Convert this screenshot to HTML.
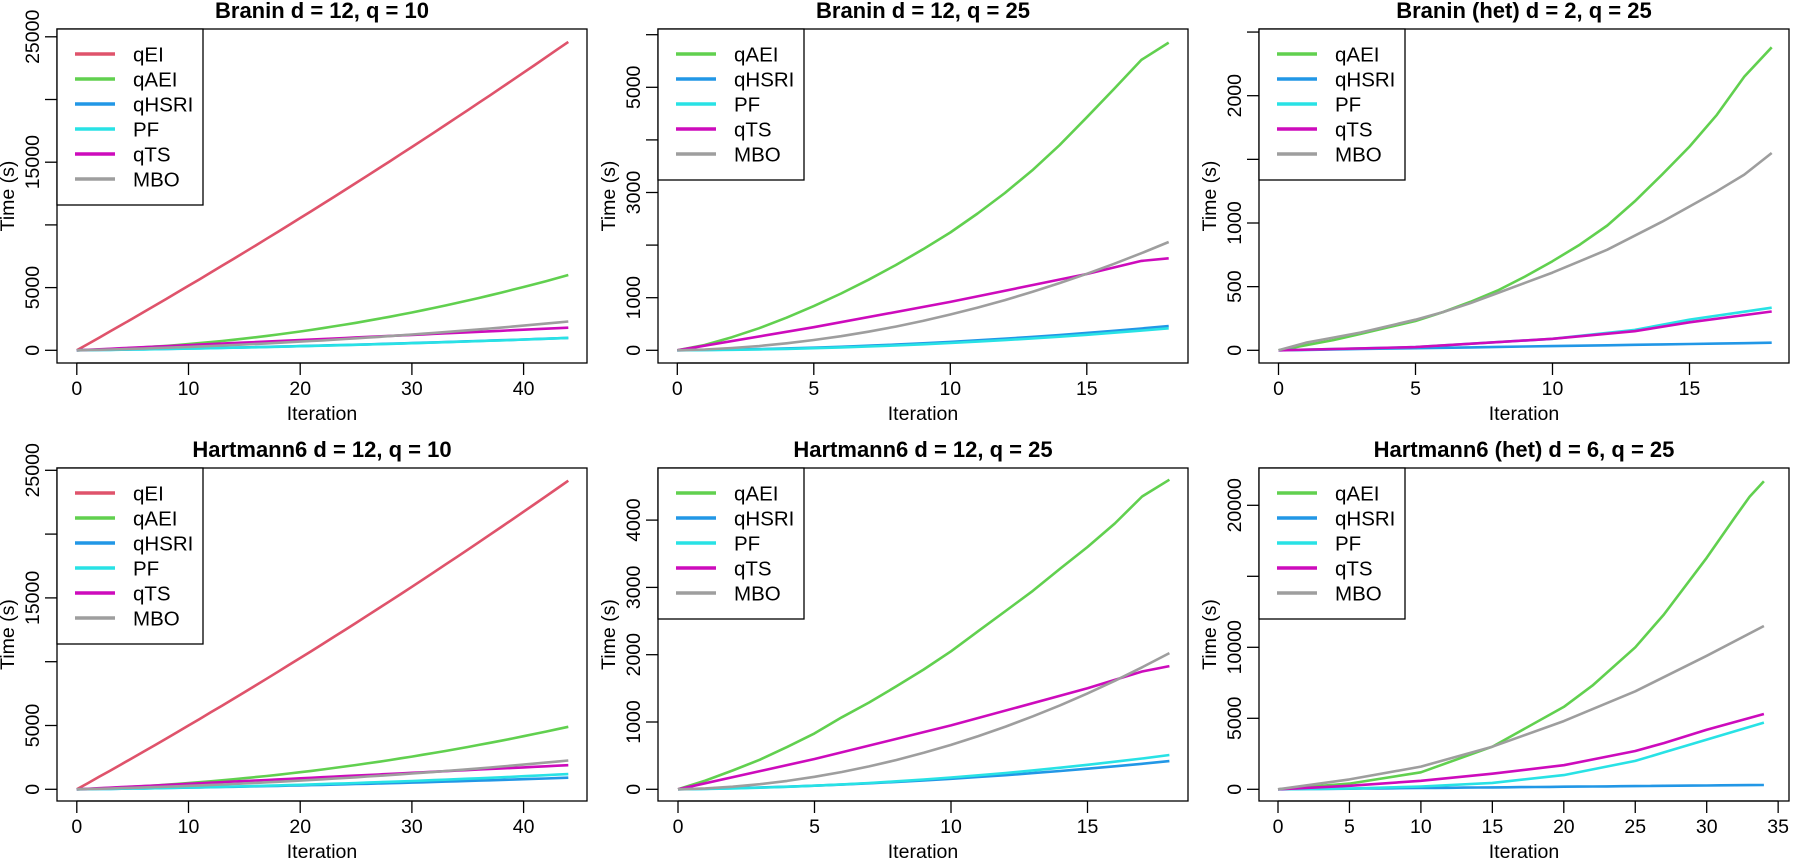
<!DOCTYPE html>
<html><head><meta charset="utf-8"><style>
html,body{margin:0;padding:0;background:#fff;}
svg{display:block;}
text{font-family:"Liberation Sans",Arial,sans-serif;fill:#000;}
</style></head><body>
<svg id="s" width="1800" height="859" viewBox="0 0 1800 859" xmlns="http://www.w3.org/2000/svg"></svg>
<script>
var C={qEI:"#DF536B",qAEI:"#61D04F",qHSRI:"#2297E6",PF:"#28E2E5",qTS:"#CD0BBC",MBO:"#9E9E9E"};
function fn(n,f){var a=[];for(var i=0;i<=n;i++)a.push([i,f(i)]);return a;}
function pts(xs,ys){return xs.map(function(x,i){return [x,ys[i]];});}
var R19=[];for(var i=0;i<=18;i++)R19.push(i);
var P=[
{L:57,T:29,H:334,title:"Branin d = 12, q = 10",ppu:11.17,x0:19.8,py:12.54,
 xt:[0,10,20,30,40],yt:[0,5000,10000,15000,20000,25000],yl:[0,5000,15000,25000],
 s:[["qEI",fn(44,function(x){return 501*x+1.316*x*x;})],
    ["qAEI",fn(44,function(x){return 23.9*x+2.557*x*x;})],
    ["qHSRI",fn(44,function(x){return 12*x+0.24*x*x;})],
    ["PF",fn(44,function(x){return 11*x+0.26*x*x;})],
    ["qTS",fn(44,function(x){return 41*x;})],
    ["MBO",fn(44,function(x){return 20*x+0.73*x*x;})]]},
{L:658,T:29,H:334,title:"Branin d = 12, q = 25",ppu:27.3,x0:19.3,py:52.6,
 xt:[0,5,10,15],yt:[0,1000,2000,3000,4000,5000,6000],yl:[0,1000,3000,5000],
 s:[["qAEI",pts(R19,[0,100,250,420,620,840,1080,1340,1620,1920,2240,2600,2990,3420,3900,4430,4970,5520,5850])],
    ["qHSRI",fn(18,function(x){return 4*x+1.2*x*x;})],
    ["PF",fn(18,function(x){return 2*x+1.18*x*x;})],
    ["qTS",pts([0,5,10,15,17,18],[0,440,920,1450,1700,1750])],
    ["MBO",fn(18,function(x){return 10*x+5.8*x*x;})]]},
{L:1259,T:29,H:334,title:"Branin (het) d = 2, q = 25",ppu:27.4,x0:19.5,py:127.3,
 xt:[0,5,10,15],yt:[0,500,1000,1500,2000,2500],yl:[0,500,1000,2000],
 s:[["qAEI",pts(R19,[0,40,80,130,180,230,300,380,470,580,700,830,980,1170,1380,1600,1850,2150,2380])],
    ["qHSRI",fn(18,function(x){return 3.3*x;})],
    ["PF",pts([0,5,10,13,15,18],[0,25,90,160,240,335])],
    ["qTS",pts([0,5,10,13,15,18],[0,25,90,150,220,305])],
    ["MBO",pts(R19,[0,60,100,140,190,240,300,370,450,530,610,700,790,900,1010,1130,1250,1380,1550])]]},
{L:57,T:468,H:333,title:"Hartmann6 d = 12, q = 10",ppu:11.17,x0:19.8,py:12.76,
 xt:[0,10,20,30,40],yt:[0,5000,10000,15000,20000,25000],yl:[0,5000,15000,25000],
 s:[["qEI",fn(44,function(x){return 485*x+1.47*x*x;})],
    ["qAEI",fn(44,function(x){return 30*x+1.85*x*x;})],
    ["qHSRI",fn(44,function(x){return 11*x+0.22*x*x;})],
    ["PF",fn(44,function(x){return 10*x+0.39*x*x;})],
    ["qTS",fn(44,function(x){return 43*x;})],
    ["MBO",fn(44,function(x){return 20*x+0.71*x*x;})]]},
{L:658,T:468,H:333,title:"Hartmann6 d = 12, q = 25",ppu:27.3,x0:20,py:67.3,
 xt:[0,5,10,15],yt:[0,1000,2000,3000,4000],yl:[0,1000,2000,3000,4000],
 s:[["qAEI",pts(R19,[0,130,280,440,630,830,1070,1290,1530,1780,2050,2350,2650,2950,3280,3600,3950,4350,4600])],
    ["qHSRI",fn(18,function(x){return 6*x+0.96*x*x;})],
    ["PF",fn(18,function(x){return 4*x+1.35*x*x;})],
    ["qTS",pts([0,5,10,15,17,18],[0,450,950,1500,1750,1830])],
    ["MBO",fn(18,function(x){return 8*x+5.8*x*x;})]]},
{L:1259,T:468,H:333,title:"Hartmann6 (het) d = 6, q = 25",ppu:14.29,x0:19,py:14.2,
 xt:[0,5,10,15,20,25,30,35],yt:[0,5000,10000,15000,20000],yl:[0,5000,10000,20000],
 s:[["qAEI",pts([0,5,10,15,20,22,25,27,30,32,33,34],[0,400,1200,3000,5800,7300,10000,12300,16300,19200,20600,21700])],
    ["qHSRI",fn(34,function(x){return 9*x;})],
    ["PF",pts([0,5,10,15,20,25,27,30,34],[0,50,200,450,1000,2000,2600,3500,4700])],
    ["qTS",pts([0,5,10,15,20,25,27,30,34],[0,250,600,1100,1700,2700,3250,4200,5300])],
    ["MBO",pts([0,5,10,15,20,25,30,34],[0,700,1600,3000,4800,6900,9400,11500])]]}
];
var o="";
P.forEach(function(p){
  var L=p.L,T=p.T,H=p.H,W=530,zero=T+321.3;
  function X(x){return L+p.x0+x*p.ppu;}
  function Y(v){return zero-v/1000*p.py;}
  o+='<text x="'+(L+W/2)+'" y="'+(T-11)+'" text-anchor="middle" font-size="22" font-weight="bold">'+p.title+'</text>';
  o+='<rect x="'+L+'" y="'+T+'" width="'+W+'" height="'+H+'" fill="none" stroke="#000" stroke-width="1.3"/>';
  var xa=X(p.xt[0]),xb=X(p.xt[p.xt.length-1]),by=T+H;
  o+='<line x1="'+xa+'" y1="'+by+'" x2="'+xb+'" y2="'+by+'" stroke="#000" stroke-width="1.3"/>';
  p.xt.forEach(function(t){var x=X(t);o+='<line x1="'+x+'" y1="'+by+'" x2="'+x+'" y2="'+(by+12)+'" stroke="#000" stroke-width="1.3"/><text x="'+x+'" y="'+(by+32)+'" text-anchor="middle" font-size="19.5">'+t+'</text>';});
  o+='<text x="'+(L+W/2)+'" y="'+(by+57)+'" text-anchor="middle" font-size="19.5">Iteration</text>';
  p.yt.forEach(function(t){var y=Y(t);o+='<line x1="'+(L-12)+'" y1="'+y+'" x2="'+L+'" y2="'+y+'" stroke="#000" stroke-width="1.3"/>';});
  p.yl.forEach(function(t){var y=Y(t);o+='<text transform="translate('+(L-18)+','+y+') rotate(-90)" text-anchor="middle" font-size="19.5">'+t+'</text>';});
  o+='<text transform="translate('+(L-43)+','+(T+H/2)+') rotate(-90)" text-anchor="middle" font-size="19.5">Time (s)</text>';
  p.s.forEach(function(s){
    var d=s[1].map(function(q){return X(q[0]).toFixed(1)+','+Y(q[1]).toFixed(1);}).join(' ');
    o+='<polyline points="'+d+'" fill="none" stroke="'+C[s[0]]+'" stroke-width="2.6" stroke-linejoin="round"/>';
  });
  var n=p.s.length,lh=25*n+26;
  o+='<rect x="'+L+'" y="'+T+'" width="146" height="'+lh+'" fill="#fff" stroke="#000" stroke-width="1.3"/>';
  p.s.forEach(function(s,i){var y=T+25+25*i;
    o+='<line x1="'+(L+18)+'" y1="'+y+'" x2="'+(L+58)+'" y2="'+y+'" stroke="'+C[s[0]]+'" stroke-width="3.4"/>';
    o+='<text x="'+(L+76)+'" y="'+(y+7.5)+'" font-size="20.5">'+s[0]+'</text>';});
});
document.getElementById("s").innerHTML=o;
</script>
</body></html>
